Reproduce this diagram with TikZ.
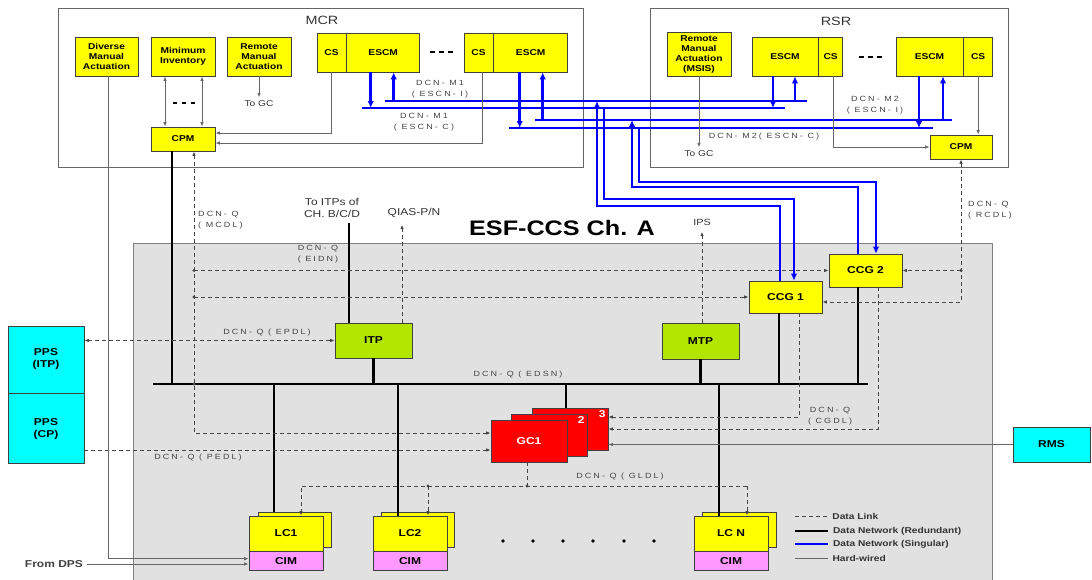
\documentclass[tikz,border=0pt]{standalone}
\usepackage{fontspec}
\setmainfont{Liberation Sans}[FakeStretch=1.2]
\newfontfamily\lblfont{Liberation Sans}[FakeStretch=1.2,LetterSpace=28]
\usetikzlibrary{arrows.meta, positioning}
\definecolor{boxyellow}{HTML}{FFFF00}
\definecolor{boxlime}{HTML}{B2E600}
\definecolor{boxcyan}{HTML}{00FFFF}
\definecolor{boxred}{HTML}{FF0000}
\definecolor{boxpink}{HTML}{FF99FF}
\definecolor{esfbg}{HTML}{E1E1E1}
\definecolor{netblue}{HTML}{0000FF}
\definecolor{linkgray}{HTML}{454545}

\begin{document}
\begin{tikzpicture}[x=1pt, y=-1pt,
    >={Latex[length=4.5pt, width=3.5pt]},
    sz/.style 2 args={minimum width=#1pt, minimum height=#2pt},
    box/.style={draw=black!75, line width=0.7pt, inner sep=0pt, align=center,
                font=\bfseries\fontsize{8.5}{10}\selectfont},
    ybox/.style={box, fill=boxyellow},
    bigbox/.style={box, font=\bfseries\fontsize{10}{12}\selectfont},
    gclbl/.style={anchor=north east, text=white, inner sep=2.5pt,
                  font=\bfseries\fontsize{10}{12}\selectfont},
    lbl/.style={text=linkgray, align=center, inner sep=0pt, font=\lblfont\fontsize{7.5}{11}\selectfont},
    txt/.style={text=black!80, align=center, inner sep=0pt, font=\fontsize{10}{11.5}\selectfont},
    lgd/.style={text=black!80, inner sep=0pt, font=\bfseries\fontsize{8.5}{10}\selectfont},
    net/.style={draw=black, line width=2.4pt},
    bnet/.style={draw=netblue, line width=2.6pt, >={Latex[length=7pt, width=6.5pt]}},
    dlink/.style={draw=linkgray, line width=0.9pt, dash pattern=on 4pt off 3pt},
    wire/.style={draw=black!60, line width=0.8pt},
    dots/.style={line width=2pt},
]
\useasboundingbox (0,0) rectangle (1092,579);

% cabinet and rooms
\filldraw[fill=esfbg, draw=black!50, line width=0.9pt] (133,243) rectangle (992,590);
\node[font=\bfseries\fontsize{21}{24}\selectfont] (title) at (562,228) {ESF-CCS Ch. A};
\draw[black!60, line width=0.8pt] (58,8) rectangle (583,167);
\draw[black!60, line width=0.8pt] (650,8) rectangle (1008,167);
\node[txt, font=\fontsize{12}{14}\selectfont] (mcr) at (322,20) {MCR};
\node[txt, font=\fontsize{12}{14}\selectfont] (rsr) at (836,21) {RSR};

% MCR
\node[ybox, sz={63}{39}] (dma) at (106.5,56.5) {Diverse\\Manual\\Actuation};
\node[ybox, sz={64}{39}] (minv) at (183,56.5) {Minimum\\Inventory};
\node[ybox, sz={64}{39}] (rma) at (259,56.5) {Remote\\Manual\\Actuation};
\node[ybox, sz={29}{39}] (cs1) at (331.5,52.5) {CS};
\node[ybox, sz={73}{39}, right=0pt of cs1] (escm1) {ESCM};
\node[ybox, sz={29}{39}] (cs2) at (478.5,52.5) {CS};
\node[ybox, sz={74}{39}, right=0pt of cs2] (escm2) {ESCM};
\node[ybox, sz={64}{24}] (cpm1) at (183,139) {CPM};
\foreach \x in {432,441,450} \draw[dots] (\x-2.5,52) -- (\x+2.5,52);
\foreach \x in {175,184,193} \draw[dots] (\x-2,103) -- (\x+2,103);

% RSR
\node[ybox, sz={64}{44}] (msis) at (699,54) {Remote\\Manual\\Actuation\\(MSIS)};
\node[ybox, sz={66}{39}] (rescm1) at (785,56.5) {ESCM};
\node[ybox, sz={24}{39}, right=0pt of rescm1] (rcs1) {CS};
\node[ybox, sz={67}{39}] (rescm2) at (929.5,56.5) {ESCM};
\node[ybox, sz={29}{39}, right=0pt of rescm2] (rcs2) {CS};
\node[ybox, sz={62}{24}] (cpm2) at (961,147) {CPM};
\foreach \x in {861,870,879} \draw[dots] (\x-2.5,57) -- (\x+2.5,57);

% channel A
\node[bigbox, fill=boxyellow, sz={73}{32}] (ccg1) at (785.5,297) {CCG 1};
\node[bigbox, fill=boxyellow, sz={73}{33}] (ccg2) at (865.5,270.5) {CCG 2};
\node[bigbox, fill=boxlime, sz={77}{35}] (itp) at (373.5,340.5) {ITP};
\node[bigbox, fill=boxlime, sz={77}{36}] (mtp) at (700.5,341) {MTP};
\node[bigbox, fill=boxcyan, sz={76}{67}] (ppsi) at (46,359.5) {PPS\\(ITP)};
\node[bigbox, fill=boxcyan, sz={76}{70}, below=0pt of ppsi] (ppsc) {PPS\\(CP)};
\node[bigbox, fill=boxcyan, sz={77}{35}] (rms) at (1051.5,444.5) {RMS};
\node[bigbox, fill=boxred, sz={76}{42}, label={[gclbl]north east:3}] (gc3) at (570,429) {};
\node[bigbox, fill=boxred, sz={76}{42}, label={[gclbl]north east:2}] (gc2) at (549,435) {};
\node[bigbox, fill=boxred, text=white, sz={76}{42}] (gc1) at (529,441) {GC1};

\node[box, fill=boxyellow, sz={73}{35}] (lc1b) at (294.5,529.5) {};
\node[bigbox, fill=boxyellow, sz={74}{35}] (lc1) at (286,533.5) {LC1};
\node[bigbox, fill=boxpink, sz={74}{19}, below=0pt of lc1] (cim1) {CIM};
\node[box, fill=boxyellow, sz={73}{35}] (lc2b) at (418,529.5) {};
\node[bigbox, fill=boxyellow, sz={74}{35}] (lc2) at (410,533.5) {LC2};
\node[bigbox, fill=boxpink, sz={74}{19}, below=0pt of lc2] (cim2) {CIM};
\node[box, fill=boxyellow, sz={74}{35}] (lcnb) at (739.5,529.5) {};
\node[bigbox, fill=boxyellow, sz={74}{35}] (lcn) at (731,533.5) {LC N};
\node[bigbox, fill=boxpink, sz={74}{19}, below=0pt of lcn] (cimn) {CIM};
\foreach \x in {503,533,563,593,624,654} \fill (\x,541) circle (1.8);

% redundant network
\coordinate (busL) at (153,384);
\coordinate (busR) at (868,384);
\draw[net] (busL) -- (busR);
\draw[net] ([xshift=-11pt]cpm1.south) -- ([xshift=-11pt]cpm1.south |- busL);
\draw[net] (itp.south) -- (itp.south |- busL);
\draw[net] (mtp.south) -- (mtp.south |- busL);
\draw[net] ([xshift=-6.5pt]ccg1.south) -- ([xshift=-6.5pt]ccg1.south |- busL);
\draw[net] ([xshift=-7.5pt]ccg2.south) -- ([xshift=-7.5pt]ccg2.south |- busL);
\draw[net] ([xshift=-4pt]gc3.north) -- ([xshift=-4pt]gc3.north |- busL);
\draw[net] ([xshift=-20.5pt]lc1b.north) -- ([xshift=-20.5pt]lc1b.north |- busL);
\draw[net] ([xshift=-12pt]lc2.north) -- ([xshift=-12pt]lc2.north |- busL);
\draw[net] ([xshift=-12pt]lcn.north) -- ([xshift=-12pt]lcn.north |- busL);
\coordinate (toitp) at (349,223);
\draw[net] ([xshift=-24.5pt]itp.north) -- ([xshift=-24.5pt]itp.north |- toitp);
\node[txt] (toitplbl) at (332,208) {To ITPs of\\CH. B/C/D};

% singular networks
\coordinate (m1i) at (385,101); \coordinate (m1iE) at (807,101);
\coordinate (m1c) at (362,108); \coordinate (m1cE) at (785,108);
\coordinate (m2i) at (535,120); \coordinate (m2iE) at (952,120);
\coordinate (m2c) at (509,128); \coordinate (m2cE) at (933,128);
\draw[bnet] (m1i) -- (m1iE);
\draw[bnet] (m1c) -- (m1cE);
\draw[bnet] (m2i) -- (m2iE);
\draw[bnet] (m2c) -- (m2cE);
\draw[bnet, ->] ([xshift=-12.5pt]escm1.south) -- ([xshift=-12.5pt]escm1.south |- m1c);
\draw[bnet, <-] ([xshift=10.5pt]escm1.south) -- ([xshift=10.5pt]escm1.south |- m1i);
\draw[bnet, ->] ([xshift=-11pt]escm2.south) -- ([xshift=-11pt]escm2.south |- m2c);
\draw[bnet, <-] ([xshift=12pt]escm2.south) -- ([xshift=12pt]escm2.south |- m2i);
\draw[bnet, ->] ([xshift=-12pt]rescm1.south) -- ([xshift=-12pt]rescm1.south |- m1c);
\draw[bnet, <-] ([xshift=10pt]rescm1.south) -- ([xshift=10pt]rescm1.south |- m1i);
\draw[bnet, ->] ([xshift=-10.5pt]rescm2.south) -- ([xshift=-10.5pt]rescm2.south |- m2c);
\draw[bnet, <-] ([xshift=13.5pt]rescm2.south) -- ([xshift=13.5pt]rescm2.south |- m2i);
\coordinate (v1) at (597,206); \coordinate (v2) at (604,199);
\coordinate (v3) at (632,187); \coordinate (v4) at (639,182);
\draw[bnet, ->] ([xshift=-5.5pt]ccg1.north) |- (v1) -- (v1 |- m1i);
\draw[bnet, ->] (v2 |- m1c) -- (v2) -| ([xshift=8.5pt]ccg1.north);
\draw[bnet, ->] ([xshift=-7.5pt]ccg2.north) |- (v3) -- (v3 |- m2i);
\draw[bnet, ->] (v4 |- m2c) -- (v4) -| ([xshift=10.5pt]ccg2.north);
\node[lbl] (m1ilbl) at (440,89) {DCN- M1\\( ESCN- I)};
\node[lbl] (m1clbl) at (424,122) {DCN- M1\\( ESCN- C)};
\node[lbl] (m2ilbl) at (875,105) {DCN- M2\\( ESCN- I)};
\node[lbl] (m2clbl) at (764,137) {DCN- M2( ESCN- C)};

% data links
\draw[dlink, <->] ([xshift=11pt]cpm1.south) |- ([yshift=8pt]gc1.west);
\coordinate (eidnA) at ([xshift=11pt]cpm1.south |- ccg2.west);
\coordinate (eidnB) at ([xshift=11pt]cpm1.south |- ccg1.west);
\draw[dlink, ->] (eidnA) -- (ccg2.west);
\draw[dlink, ->] (eidnB) -- (ccg1.west);
\fill[linkgray] (eidnA) circle (1.6) (eidnB) circle (1.6);
\fill[linkgray] ([xshift=11pt]cpm1.south |- busL) circle (1.6);
\coordinate (rcdlA) at (cpm2.south |- ccg2.east);
\coordinate (rcdlB) at (961,302);
\draw[dlink, <->] (cpm2.south) -- (rcdlB) -- (rcdlB -| ccg1.east);
\draw[dlink, ->] (rcdlA) -- (ccg2.east);
\fill[linkgray] (rcdlA) circle (1.6);
\draw[dlink, <->] (itp.west -| ppsi.east) -- (itp.west);
\draw[dlink, ->] ([xshift=28.5pt]itp.north) -- ++(0,-98);
\node[txt] (qias) at (414,213) {QIAS-P/N};
\draw[dlink, ->] ([xshift=1.5pt]mtp.north) -- ++(0,-91);
\node[txt, font=\fontsize{9}{10}\selectfont] (ips) at (702,222) {IPS};
\coordinate (pedl) at ([yshift=-9pt]gc1.west);
\draw[dlink, ->] (pedl -| ppsc.east) -- (pedl);
\draw[dlink, ->] ([xshift=13.5pt]ccg1.south) |- ([yshift=12pt]gc3.east);
\draw[dlink, ->] ([xshift=13pt]ccg2.south) |- (gc3.east);
\coordinate (gldlR) at (747,486);
\draw[dlink] ([xshift=-2pt]gc1.south) -- ([xshift=-2pt]gc1.south |- gldlR);
\draw[dlink, ->] (gldlR) -| ([xshift=15pt]lc1.north);
\draw[dlink, ->] (gldlR) -- ([xshift=16pt]lcn.north);
\draw[dlink, ->] ([xshift=18pt]lc2.north |- gldlR) -- ([xshift=18pt]lc2.north);
\fill[linkgray] ([xshift=18pt]lc2.north |- gldlR) circle (1.6);
\fill[linkgray] ([xshift=-2pt]gc1.south |- gldlR) circle (1.6);
\node[lbl, anchor=west, align=left] (mcdllbl) at (198,220) {DCN- Q\\( MCDL)};
\node[lbl] (eidnlbl) at (318,254) {DCN- Q\\( EIDN)};
\node[lbl] (epdllbl) at (267,333) {DCN- Q ( EPDL)};
\node[lbl] (edsnlbl) at (518,375) {DCN- Q ( EDSN)};
\node[lbl] (pedllbl) at (198,458) {DCN- Q ( PEDL)};
\node[lbl] (cgdllbl) at (830,416.5) {DCN- Q\\( CGDL)};
\node[lbl] (gldllbl) at (620,477) {DCN- Q ( GLDL)};
\node[lbl, anchor=west, align=left] (rcdllbl) at (968,210) {DCN- Q\\( RCDL)};

% hard-wired
\draw[wire, ->] ([xshift=1.5pt]dma.south) |- ([yshift=2.5pt]cim1.west);
\node[font=\bfseries\fontsize{10}{12}\selectfont, text=black!75, inner sep=4pt] (dps) at (54,564) {From DPS};
\draw[wire, ->] (dps.east) -- (dps.east -| cim1.west);
\draw[wire, <->] ([xshift=-18pt]minv.south) -- ([xshift=-18pt]cpm1.north);
\draw[wire, <->] ([xshift=19pt]minv.south) -- ([xshift=19pt]cpm1.north);
\draw[wire, ->] (rma.south) -- ++(0,21) node[txt, below=3pt, font=\fontsize{8.5}{10}\selectfont] (rmagc) {To GC};
\draw[wire, ->] (cs1.south) |- ([yshift=6pt]cpm1.east);
\draw[wire, ->] ([xshift=3.5pt]cs2.south) |- ([yshift=-4pt]cpm1.east);
\draw[wire, ->] ([xshift=3pt]rcs1.south) |- (cpm2.west);
\draw[wire, ->] (rcs2.south) -- (rcs2.south |- cpm2.north);
\draw[wire, ->] (msis.south) -- ++(0,71) node[txt, below=3pt, font=\fontsize{8.5}{10}\selectfont] (msisgc) {To GC};
\draw[wire, ->] (rms.west) -- (rms.west -| gc3.east);

% legend
\draw[dlink] (795,516) -- (828,516) node[lgd, right=4pt] (lgdl) {Data Link};
\draw[net, line width=2.2pt] (795,531) -- (828,531) node[lgd, right=4pt] (lgred) {Data Network (Redundant)};
\draw[bnet, line width=2.2pt] (795,544) -- (828,544) node[lgd, right=4pt] (lgsng) {Data Network (Singular)};
\draw[wire, line width=1pt] (795,558) -- (828,558) node[lgd, right=4pt] (lghw) {Hard-wired};
\end{tikzpicture}
\end{document}
